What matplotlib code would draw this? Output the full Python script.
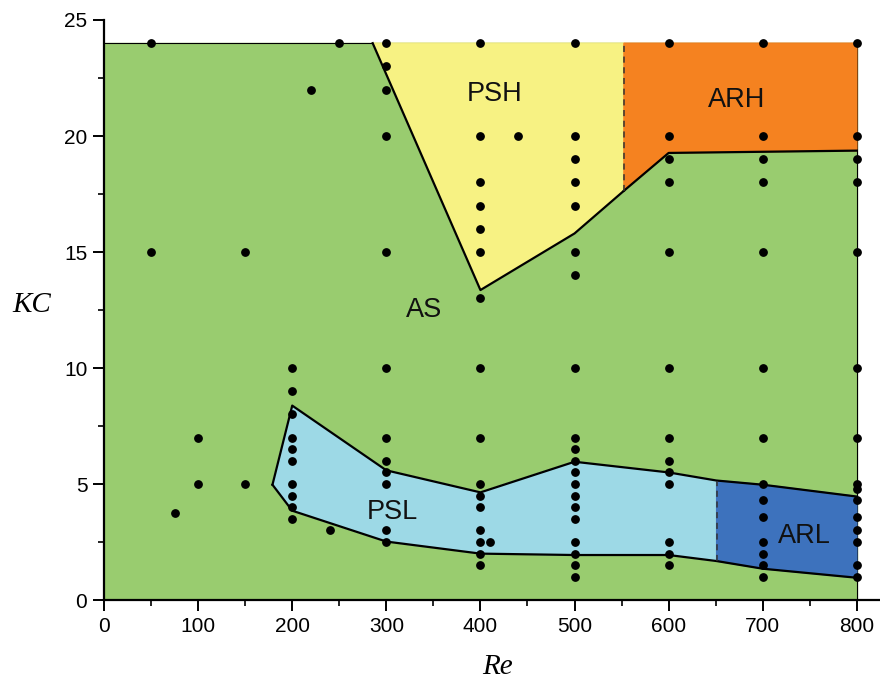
import matplotlib
matplotlib.use("Agg")
import matplotlib.pyplot as plt
import numpy as np

# sample points (Re, KC), grouped by Re column
kc_at_200 = [10, 9, 8, 7, 6.5, 6, 5, 4.5, 4, 3.5]
kc_at_300 = [24, 23, 22, 20, 15, 10, 7, 6, 5.5, 5, 3, 2.5]
kc_at_400 = [24, 20, 18, 17, 16, 15, 13, 10, 7, 5, 4.5, 4, 3, 2.5, 2, 1.5]
kc_at_500 = [24, 20, 19, 18, 17, 15, 14, 10, 7, 6.5, 6, 5.5, 5, 4.5, 4, 3.5, 2.5, 2, 1.5, 1]
kc_at_600 = [24, 20, 19, 18, 15, 10, 7, 6, 5.5, 5, 2.5, 2, 1.5]
kc_at_700 = [24, 20, 19, 18, 15, 10, 7, 5, 4.3, 3.6, 2.5, 2, 1.5, 1]
kc_at_800 = [24, 20, 19, 18, 15, 10, 7, 5, 4.8, 4.3, 3.6, 3, 2.5, 1.5, 1]
other_re = [50, 50, 75, 100, 100, 150, 150, 220, 240, 250, 410, 440]
other_kc = [24, 15, 3.75, 7, 5, 15, 5, 22, 3, 24, 2.5, 20]

# regime boundaries
psh_re = [285.5, 400, 500, 552.5, 552.5]
psh_kc = [24, 13.36, 15.8, 17.64, 24]
arh_re = [552.5, 552.5, 600, 800, 800]
arh_kc = [24, 17.64, 19.27, 19.37, 24]
psl_up_re = [179, 200, 300, 400, 500, 600, 651]
psl_up_kc = [4.97, 8.38, 5.59, 4.64, 5.96, 5.5, 5.15]
psl_lo_re = [179, 200, 300, 400, 500, 600, 651]
psl_lo_kc = [4.97, 3.85, 2.52, 2.0, 1.94, 1.94, 1.68]
arl_up_re = [651, 700, 800]
arl_up_kc = [5.15, 4.97, 4.46]
arl_lo_re = [651, 700, 800]
arl_lo_kc = [1.68, 1.35, 0.96]

regime_names = ["PSH", "ARH", "AS", "PSL", "ARL"]
name_re = [415, 672, 340, 306, 744]
name_kc = [21.8, 21.55, 12.5, 3.8, 2.75]

c_green = "#99cc6f"
c_yellow = "#f7f283"
c_orange = "#f58220"
c_lblue = "#9dd9e6"
c_blue = "#3d72bd"

fig = plt.figure(figsize=(8.8, 6.8), dpi=100)
ax = fig.add_axes([0.1182, 0.1176, 0.8818, 0.853])

# AS background
ax.fill([0, 800, 800, 0], [0, 0, 24, 24], color=c_green, zorder=0)
ax.plot([0, 800, 800], [24, 24, 0], color="black", lw=0.8, zorder=1)

# high KC regimes
ax.fill(psh_re, psh_kc, color=c_yellow, zorder=1)
ax.fill(arh_re, arh_kc, color=c_orange, zorder=1)
ax.plot(psh_re[:4], psh_kc[:4], color="black", lw=1.6, zorder=2)
ax.plot(arh_re[1:4], arh_kc[1:4], color="black", lw=1.6, zorder=2)
ax.plot(psh_re[3:5], psh_kc[3:5], color="#333333", lw=1.1, ls=(0, (4, 3)), zorder=2)

# low KC regimes
ax.fill(psl_up_re + psl_lo_re[::-1], psl_up_kc + psl_lo_kc[::-1], color=c_lblue, zorder=1)
ax.fill(arl_up_re + arl_lo_re[::-1], arl_up_kc + arl_lo_kc[::-1], color=c_blue, zorder=1)
ax.plot(psl_up_re + arl_up_re[1:], psl_up_kc + arl_up_kc[1:], color="black", lw=1.6, zorder=2)
ax.plot(psl_lo_re + arl_lo_re[1:], psl_lo_kc + arl_lo_kc[1:], color="black", lw=1.6, zorder=2)
ax.plot([651, 651], [psl_lo_kc[-1], psl_up_kc[-1]], color="#333333", lw=1.1, ls=(0, (4, 3)), zorder=2)

# sample points
cols = [(200, kc_at_200), (300, kc_at_300), (400, kc_at_400), (500, kc_at_500),
        (600, kc_at_600), (700, kc_at_700), (800, kc_at_800)]
for re_val, kcs in cols:
    ax.scatter([re_val] * len(kcs), kcs, s=28, color="black", zorder=3, clip_on=False)
ax.scatter(other_re, other_kc, s=28, color="black", zorder=3, clip_on=False)

for name, x, y in zip(regime_names, name_re, name_kc):
    ax.text(x, y, name, ha="center", va="center", fontsize=19.5,
            family="Liberation Sans", color="#111111", zorder=4)

ax.set_xlim(0, 824.6)
ax.set_ylim(0, 25)
ax.set_xticks(np.arange(0, 801, 100))
ax.set_xticks(np.arange(50, 801, 100), minor=True)
ax.set_yticks(np.arange(0, 26, 5))
ax.set_yticks(np.arange(2.5, 25, 5), minor=True)
ax.spines["top"].set_visible(False)
ax.spines["right"].set_visible(False)
ax.spines["left"].set_linewidth(1.6)
ax.spines["bottom"].set_linewidth(1.6)
ax.spines["left"].set_bounds(0, 25)
ax.tick_params(which="major", direction="out", length=8, width=1.4, labelsize=15, pad=4)
ax.tick_params(which="minor", direction="out", length=4, width=1.2)
for lab in ax.get_xticklabels() + ax.get_yticklabels():
    lab.set_family("Liberation Sans")

fig.text(32 / 880, 1 - 305 / 680, "KC", fontsize=21, style="italic",
         family="Liberation Serif", ha="center", va="center")
fig.text(497 / 880, 1 - 667 / 680, "Re", fontsize=21, style="italic",
         family="Liberation Serif", ha="center", va="center")

fig.savefig("out.png", dpi=100)
